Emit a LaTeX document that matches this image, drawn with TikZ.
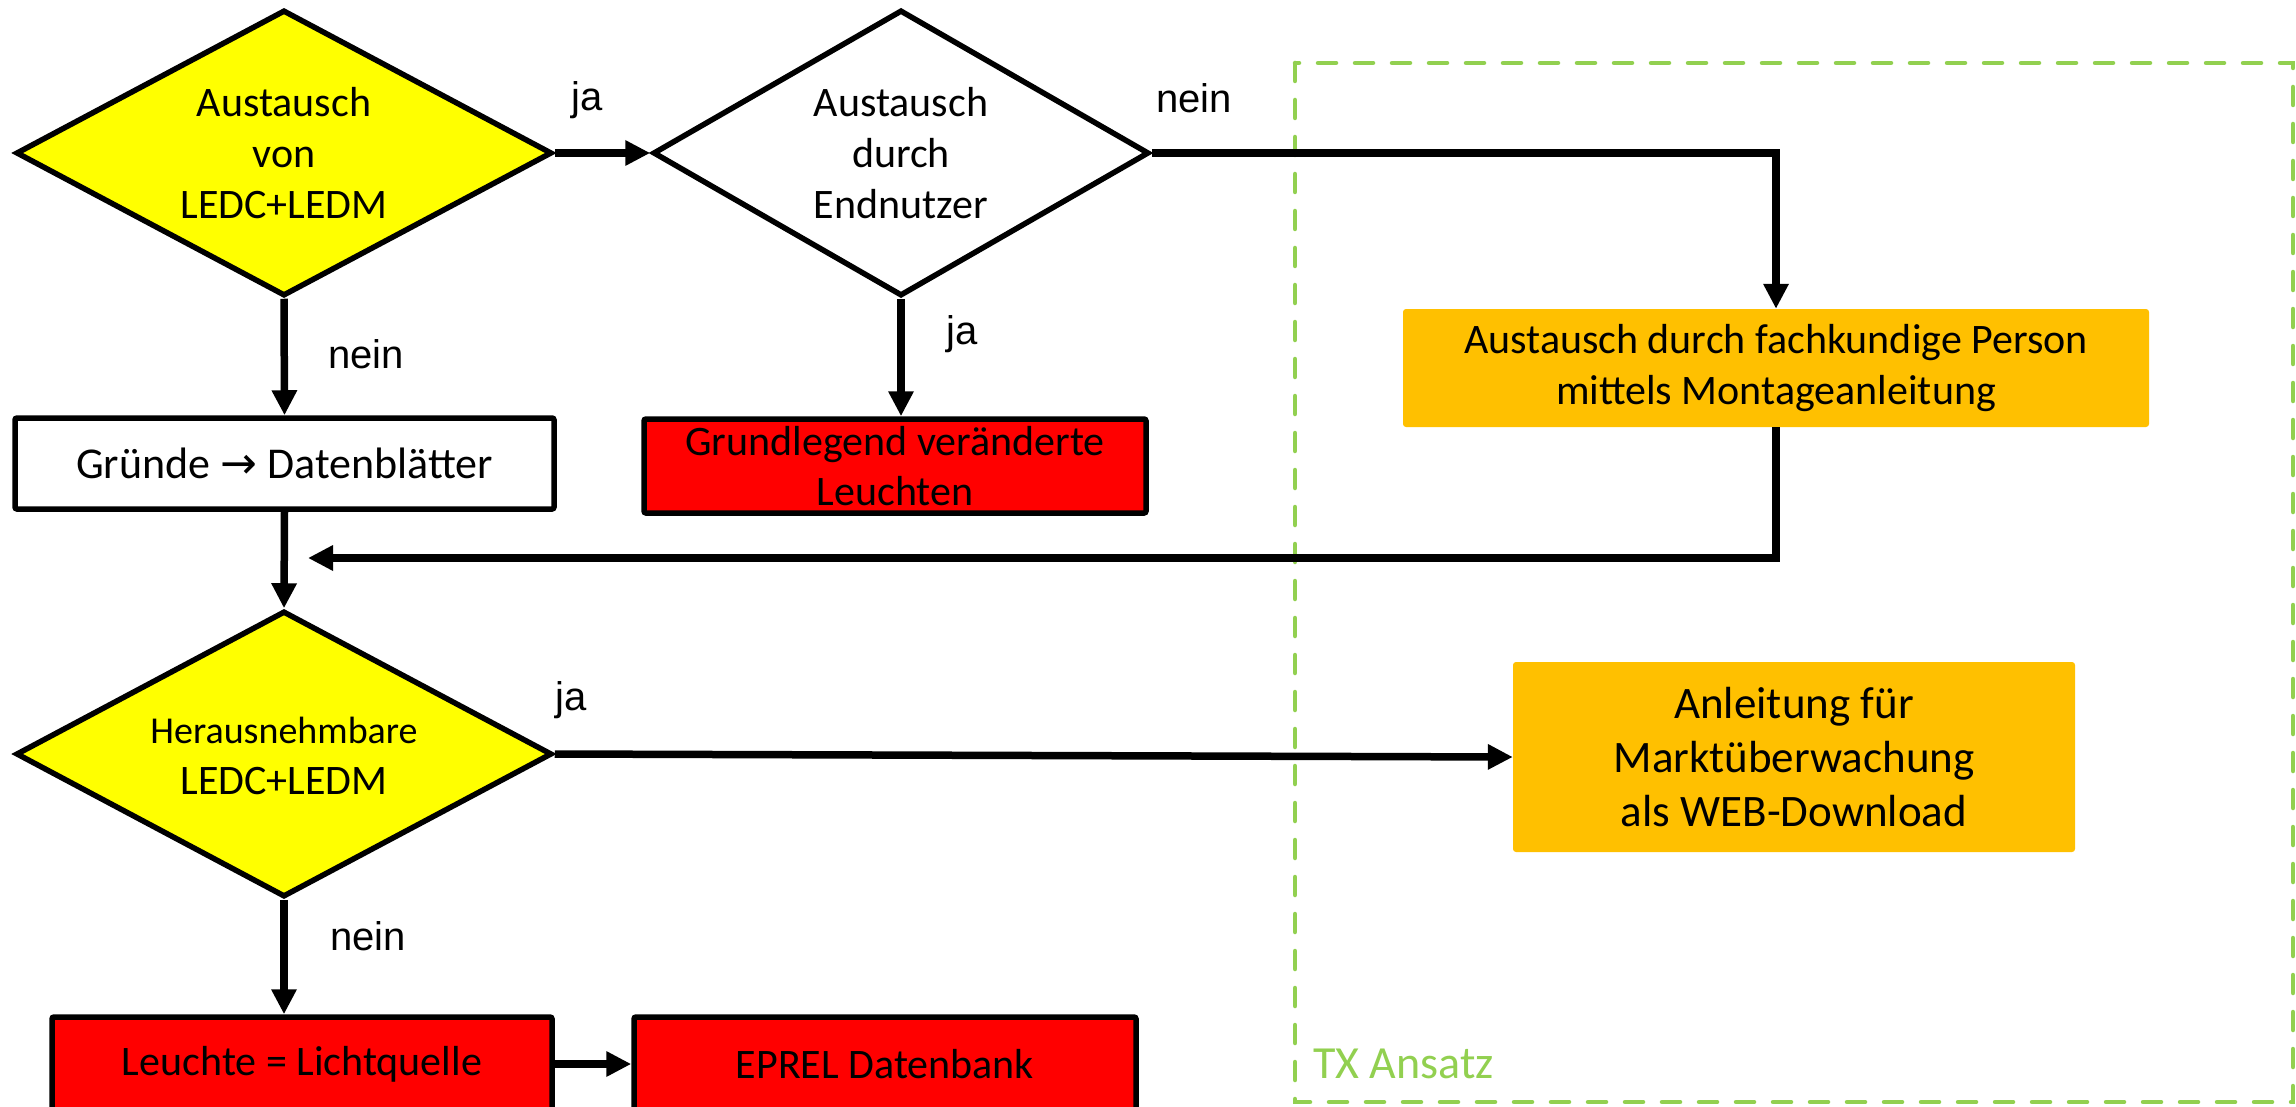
\documentclass[tikz,border=0pt]{standalone}
\usepackage{fontspec}
\setmainfont{Carlito}
\newfontfamily\labelfont{Liberation Sans}
\newfontfamily\arrowfont{DejaVu Sans}
\usetikzlibrary{shapes.geometric,arrows.meta}
\definecolor{yel}{HTML}{FFFF00}
\definecolor{org}{HTML}{FFC000}
\definecolor{rd}{HTML}{FF0000}
\definecolor{grn}{HTML}{92D050}
\tikzset{
  base/.style={font=\fontsize{42}{51}\selectfont, align=center, inner sep=0pt},
  dia/.style={diamond, draw=black, line width=5.5pt, inner sep=0pt, minimum width=536pt, minimum height=286pt},
  dtext/.style={base},
  rbox/.style={base, rectangle, draw=black, line width=5.5pt, rounded corners=2pt},
  obox/.style={base, rectangle, fill=org, rounded corners=3pt},
  lbl/.style={font=\labelfont\fontsize{40}{48}\selectfont, inner sep=0pt},
  conn/.style={line width=7.5pt, -{Triangle[length=25pt,width=24pt]}},
}
\begin{document}
\begin{tikzpicture}[x=1pt,y=-1pt]
\useasboundingbox (0,0) rectangle (2296,1107);
\fill[white] (0,0) rectangle (2296,1107);

% TX region
\draw[grn, line width=4.5pt, dash pattern=on 18pt off 19pt, line cap=round] (1295,63) rectangle (2293,1102);
\node[anchor=west, inner sep=0pt, text=grn, font=\fontsize{46}{54}\selectfont] (tx) at (1313,1064) {TX Ansatz};

% nodes
\node[dia, fill=yel, label={[dtext]center:{Austausch\\von\\LEDC+LEDM}}] (d1) at (284,153) {};
\node[dia, fill=white, minimum width=496pt, label={[dtext]center:{Austausch\\durch\\Endnutzer}}] (d2) at (901,153) {};
\node[obox, minimum width=746pt, minimum height=118pt] (o1) at (1776,368) {Austausch durch fachkundige Person\\mittels Montageanleitung};
\node[rbox, fill=white, minimum width=539pt, minimum height=91pt, font=\fontsize{44}{52}\selectfont] (g) at (284.5,463.5) {Gründe {\arrowfont\fontsize{44}{52}\selectfont →} Datenblätter};
\node[rbox, fill=rd, minimum width=502pt, minimum height=94pt, font=\fontsize{42}{50}\selectfont] (r1) at (895,466) {Grundlegend veränderte\\Leuchten};
\node[dia, fill=yel, label={[dtext, yshift=-2pt]center:{{\fontsize{38}{46}\selectfont Herausnehmbare}\\LEDC+LEDM}}] (d3) at (284,754) {};
\node[obox, minimum width=562pt, minimum height=190pt, font=\fontsize{45}{54}\selectfont] (o2) at (1794,757) {Anleitung für\\Marktüberwachung\\als WEB-Download};
\node[rbox, fill=rd, minimum width=500pt, minimum height=94pt] (r2) at (302,1064) {Leuchte = Lichtquelle};
\node[rbox, fill=rd, minimum width=502pt, minimum height=94pt] (r3) at (885,1064) {EPREL Datenbank};
\coordinate (ret) at (308,558);

% labels
\node[lbl] (l1) at (587,100) {ja};
\node[lbl] (l2) at (1194,98) {nein};
\node[lbl] (l3) at (366,354) {nein};
\node[lbl] (l4) at (962,334) {ja};
\node[lbl] (l5) at (571,700) {ja};
\node[lbl] (l6) at (368,936) {nein};

% connectors
\draw[conn] (d1.east) -- (d2.west);
\draw[conn] (d2.east) -| (o1.north);
\draw[conn] (d1.south) -- (g.north);
\draw[conn] (d2.south) -- (d2.south |- r1.north);
\draw[conn] (o1.south) |- (ret);
\draw[conn] (g.south) -- (d3.north);
\draw[conn] (d3.east) -- (o2.west);
\draw[conn] (d3.south) -- (d3.south |- r2.north);
\draw[conn] (r2.east) -- (r3.west);
\end{tikzpicture}
\end{document}
